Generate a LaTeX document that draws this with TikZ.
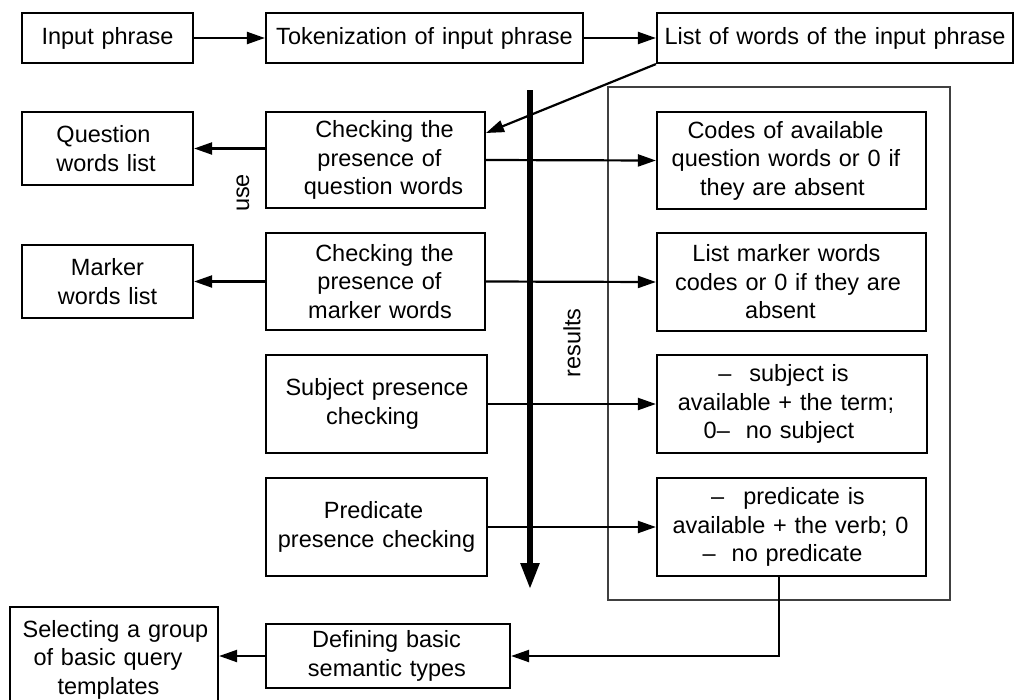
\documentclass[tikz,border=0pt]{standalone}
\usepackage{fontspec}
\setmainfont{Liberation Sans}
\usetikzlibrary{arrows.meta,calc}
\newcommand\fs{\fontsize{23.5}{28.5}\selectfont}
\newcommand\Ln[2]{\hspace*{#1}#2\hspace*{-#1}}
\tikzset{
  bx/.style={draw, line width=2.2pt, inner sep=0pt, align=center, font=\fs},
  conn/.style={line width=2.2pt, -{Triangle[length=18pt,width=12pt]}},
  lbl/.style={font=\fs, inner sep=0pt, rotate=90}
}
\begin{document}
\begin{tikzpicture}[x=1pt,y=-1pt]
\useasboundingbox (0,0) rectangle (1015,699);
\clip (0,0) rectangle (1015,699);
% container
\draw[line width=1.3pt, black!75] (608,87) rectangle (950,600);
% top row
\node[bx, text width=171pt, minimum height=50pt] (in) at (107.5,38) {Input phrase};
\node[bx, text width=317pt, minimum height=50pt] (tok) at (424.5,38) {Tokenization of input phrase};
\node[bx, text width=356pt, minimum height=50pt] (lst) at (835,38) {List of words of the input phrase};
% left lists
\node[bx, text width=171pt, minimum height=73pt] (ql) at (107.5,148.5) {\Ln{-8pt}{Question}\\\Ln{-3pt}{words list}};
\node[bx, text width=171pt, minimum height=73pt] (ml) at (107.5,281.5) {Marker\\words list};
% checking boxes
\node[bx, text width=219pt, minimum height=96pt] (cq) at (375.5,160) {\Ln{18pt}{Checking the}\\\Ln{8pt}{presence of}\\\Ln{16pt}{question words}};
\node[bx, text width=219pt, minimum height=97pt] (cm) at (375.5,281.5) {\Ln{18pt}{Checking the}\\\Ln{8pt}{presence of}\\\Ln{9pt}{marker words}};
\node[bx, text width=221pt, minimum height=98pt] (sc) at (376.5,404) {\Ln{1pt}{Subject presence}\\\Ln{-8pt}{checking}};
\node[bx, text width=221pt, minimum height=98pt] (pc) at (376.5,527) {\Ln{-6pt}{Predicate}\\presence checking};
% result boxes
\node[bx, text width=269pt, minimum height=97pt] (codes) at (791.5,160.5) {\Ln{-12pt}{Codes of available}\\\Ln{-11pt}{question words or 0 if}\\\Ln{-18pt}{they are absent}};
\node[bx, text width=269pt, minimum height=98pt] (lm) at (791.5,282) {\Ln{-10pt}{List marker words}\\\Ln{-7pt}{codes or 0 if they are}\\\Ln{-22pt}{absent}};
\node[bx, text width=270pt, minimum height=98pt] (sr) at (792,404) {\Ln{-17pt}{–\hspace*{18pt}subject is}\\\Ln{-12pt}{available + the term;}\\\Ln{-26pt}{0–\hspace*{16pt}no subject}};
\node[bx, text width=269pt, minimum height=98pt] (pr) at (791.5,527) {\Ln{-7pt}{–\hspace*{19pt}predicate is}\\\Ln{-2pt}{available + the verb; 0}\\\Ln{-18pt}{–\hspace*{16pt}no predicate}};
% bottom row
\node[bx, text width=244pt, minimum height=64pt] (def) at (388,656) {\Ln{-3pt}{Defining basic}\\\Ln{-2pt}{semantic types}};
\node[bx, text width=208pt, minimum height=105pt] (sel) at (114,659.5) {\Ln{3pt}{Selecting a group}\\\Ln{-12pt}{of basic query}\\\Ln{-11pt}{templates}};
% labels
\node[lbl] (use) at (243,193) {use};
\node[lbl] (res) at (572,343) {results};
% coordinates
\coordinate (cqin) at (486,133);
\coordinate (bartop) at (530,90);
\coordinate (barend) at (530,589);
\coordinate (prout) at (779,575);
% connectors
\draw[conn] (in) -- (tok);
\draw[conn] (tok) -- (lst);
\draw[conn] (lst.south west) -- (cqin);
\draw[conn] (cq.west |- ql.east) -- (ql.east);
\draw[conn] (cm.west) -- (ml.east);
\draw[conn] (cq.east) -- (codes.west);
\draw[conn] (cm.east) -- (lm.west);
\draw[conn] (sc.east) -- (sr.west);
\draw[conn] (pc.east) -- (pr.west);
\draw[conn] (prout) |- (def.east);
\draw[conn] (def.west) -- (def.west -| sel.east);
% results bar
\draw[line width=5.5pt, -{Triangle[length=26pt,width=18pt]}] (bartop) -- (barend);
\end{tikzpicture}
\end{document}
